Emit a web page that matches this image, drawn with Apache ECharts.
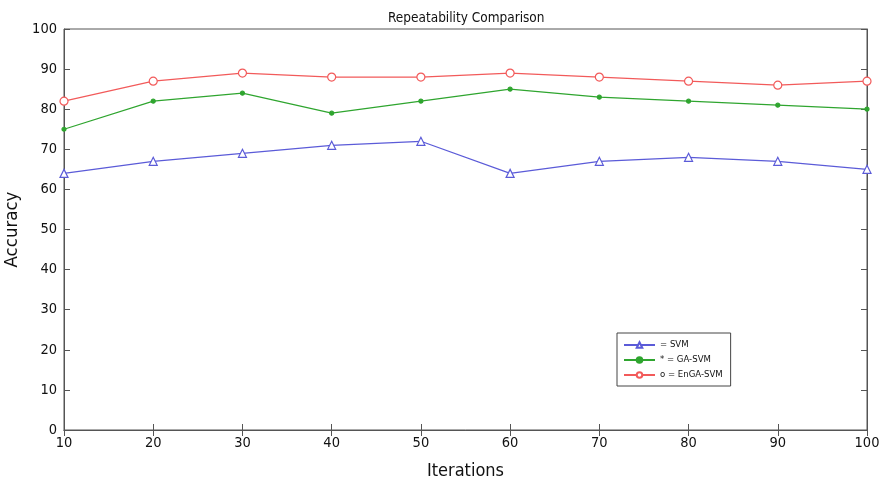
<!DOCTYPE html>
<html><head><meta charset="utf-8">
<script src="https://cdn.jsdelivr.net/npm/echarts@6/dist/echarts.min.js"></script>
<style>html,body{margin:0;padding:0;background:#fff}#c{width:880px;height:483px}</style>
</head><body><div id="c"></div>
<script>
const iterations = [10,20,30,40,50,60,70,80,90,100];
const svm = [64,67,69,71,72,64,67,68,67,65];
const gaSvm = [75,82,84,79,82,85,83,82,81,80];
const engaSvm = [82,87,89,88,88,89,88,87,86,87];
const seriesNames = ['= SVM','* = GA-SVM','o = EnGA-SVM'];
const font = '"DejaVu Sans Condensed","Liberation Sans Narrow",Arial,sans-serif';
const chart = echarts.init(document.getElementById('c'));
const mk = (name, vals, color, symbol, size, fill) => ({
  name, type:'line', data: iterations.map((x,i)=>[x, vals[i]]),
  symbol, symbolSize:size,
  lineStyle:{color, width:1.2},
  itemStyle:{color: fill ? color : '#fff', borderColor:color, borderWidth:1.2},
  animation:false
});
chart.setOption({
  backgroundColor:'#fff',
  title:{text:'Repeatability Comparison', left:383, top:6, textStyle:{fontFamily:font, fontSize:13.5, fontWeight:'normal', color:'#111'}},
  grid:{left:64, right:13, top:29, bottom:53, show:true, borderColor:'#555', borderWidth:1, outerBoundsMode:'none', containLabel:false},
  legend:{left:617, top:333, orient:'vertical', itemWidth:31, itemHeight:7, itemGap:5, padding:[7,8,6,6],
    borderColor:'#444', borderWidth:1, textStyle:{fontFamily:font, fontSize:9.5, color:'#111'}, data:seriesNames},
  xAxis:[{type:'value', min:10, max:100, interval:10, position:'bottom',
    axisLine:{lineStyle:{color:'#555'}}, axisTick:{inside:true, length:6, lineStyle:{color:'#555'}},
    axisLabel:{fontFamily:font, fontSize:14.5, color:'#111', margin:6}, splitLine:{show:false},
    name:'Iterations', nameLocation:'middle', nameGap:32, nameTextStyle:{fontFamily:font, fontSize:18, color:'#111'}},
    {type:'value', min:10, max:100, interval:10, position:'top',
    axisLine:{lineStyle:{color:'#555'}}, axisTick:{inside:true, length:6, lineStyle:{color:'#555'}},
    axisLabel:{show:false}, splitLine:{show:false}}],
  yAxis:[{type:'value', min:0, max:100, interval:10,
    axisLine:{show:true, lineStyle:{color:'#555'}}, axisTick:{show:true, inside:true, length:6, lineStyle:{color:'#555'}},
    axisLabel:{fontFamily:font, fontSize:14.5, color:'#111', margin:7}, splitLine:{show:false},
    name:'Accuracy', nameLocation:'middle', nameGap:37, nameTextStyle:{fontFamily:font, fontSize:18.5, color:'#111'}},
    {type:'value', min:0, max:100, interval:10, position:'right',
    axisLine:{show:true, lineStyle:{color:'#555'}}, axisTick:{show:true, inside:true, length:6, lineStyle:{color:'#555'}},
    axisLabel:{show:false}, splitLine:{show:false}}],
  series:[
    mk(seriesNames[0], svm, '#5b5bd8', 'triangle', 8, false),
    mk(seriesNames[1], gaSvm, '#2fa52f', 'circle', 4, true),
    mk(seriesNames[2], engaSvm, '#f25a5a', 'circle', 8, false)
  ]
});
</script></body></html>
